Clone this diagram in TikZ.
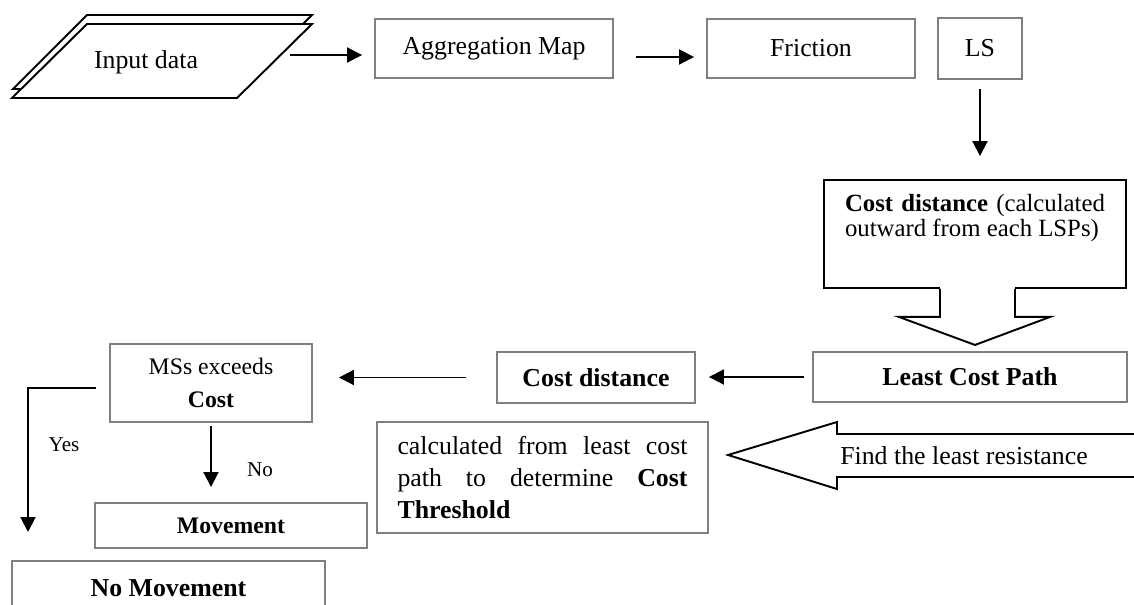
\documentclass[tikz,border=0pt]{standalone}
\usepackage{fontspec}
\setmainfont{Liberation Serif}
\usetikzlibrary{arrows.meta,calc}
\definecolor{boxgray}{RGB}{128,128,128}
\begin{document}
\begin{tikzpicture}[x=0.02cm,y=-0.02cm,
    box/.style={draw=boxgray,line width=1.1pt,inner sep=0pt,align=center,
      font=\fontsize{14.7}{17}\selectfont},
    txt/.style={inner sep=0pt,font=\fontsize{14.7}{17}\selectfont},
    small/.style={inner sep=0pt,font=\fontsize{12}{14}\selectfont},
    arr/.style={-{Triangle[length=0.3cm,width=0.3cm]},line width=1.1pt},
    para/.style={draw,line width=1.1pt,fill=white}]
  \useasboundingbox (0,0) rectangle (1134,605);
  \draw[para] (87,15) -- (312,15) -- (238,89) -- (13,89) -- cycle;
  \draw[para] (87,24) -- (312,24) -- (237,98) -- (12,98) -- cycle;
  \node[txt] (input) at (146,62) {Input data};
  \coordinate (inputout) at (290,55);
  \node[box,minimum width=4.76cm,minimum height=1.18cm] (aggr) at (494,48.5) {Aggregation Map};
  \node[box,minimum width=4.16cm,minimum height=1.18cm] (fric) at (811,48.5) {Friction};
  \node[box,minimum width=1.68cm,minimum height=1.22cm] (ls) at (980,48.5) {LS};
  \node[draw,line width=1.1pt,minimum width=6.04cm,minimum height=2.16cm,inner sep=0pt] (cdbox) at (975,234) {};
  \node[txt,anchor=north,text width=5.2cm,align=justify,font=\fontsize{14.1}{12.5}\selectfont]
    (cdtxt) at (975,194) {\textbf{Cost distance} (calculated\linebreak outward from each LSPs)};
  \fill[white] ($(cdbox.south)+(-35,-3)$) rectangle ($(cdbox.south)+(40,5)$);
  \draw[line width=1.1pt] ($(cdbox.south)+(-35,0)$) -- ++(0,28) -- ++(-41,0) -- ++(76,28)
    -- ++(75,-28) -- ++(-35,0) -- ++(0,-28);
  \node[box,minimum width=6.28cm,minimum height=1cm] (lcp) at (970,377) {\textbf{Least Cost Path}};
  \node[box,minimum width=3.96cm,minimum height=1.02cm] (cdist) at (596,377.5) {\textbf{Cost distance}};
  \node[box,minimum width=4.04cm,minimum height=1.56cm,font=\fontsize{13.5}{18.7}\selectfont]
    (mss) at (211,383) {MSs exceeds\\\textbf{Cost}};
  \node[box,minimum width=5.44cm,minimum height=0.9cm,font=\fontsize{13.5}{16}\selectfont]
    (move) at (231,525.5) {\textbf{Movement}};
  \node[box,minimum width=6.26cm,minimum height=1.08cm] (nomove) at (168.5,588) {\textbf{No Movement}};
  \node[box,minimum width=6.62cm,minimum height=2.22cm,text width=5.8cm,align=justify,
    font=\fontsize{14.7}{18.2}\selectfont] (thr) at (542.5,477.5)
    {calculated from least cost\linebreak path to determine \textbf{Cost}\linebreak \textbf{Threshold}};
  \draw[line width=1.1pt] (1140,434) -- (837,434) -- (837,422) -- (728,455) -- (837,489)
    -- (837,477) -- (1140,477);
  \node[txt] (findtxt) at (964,456) {Find the least resistance};
  \node[small] (yes) at (64,445) {Yes};
  \node[small] (no) at (260,470) {No};
  \coordinate (yesend) at (28,532);
  \draw[arr,shorten >=0.24cm] (inputout) -- (inputout -| aggr.west);
  \draw[arr,shorten <=0.44cm,shorten >=0.24cm] ([yshift=-0.17cm]aggr.east) -- ([yshift=-0.17cm]aggr.east -| fric.west);
  \draw[arr,shorten <=0.18cm,shorten >=0.46cm] (ls.south) -- (ls.south |- cdbox.north);
  \draw[arr,shorten <=0.16cm,shorten >=0.26cm] (lcp.west) -- (lcp.west -| cdist.east);
  \draw[arr,shorten <=0.6cm,shorten >=0.52cm] (cdist.west) -- (cdist.west -| mss.east);
  \draw[arr,shorten <=0.26cm] ([yshift=-0.1cm]mss.west) -| (yesend);
  \draw[arr,shorten <=0.06cm,shorten >=0.3cm] (mss.south) -- (mss.south |- move.north);
\end{tikzpicture}
\end{document}
